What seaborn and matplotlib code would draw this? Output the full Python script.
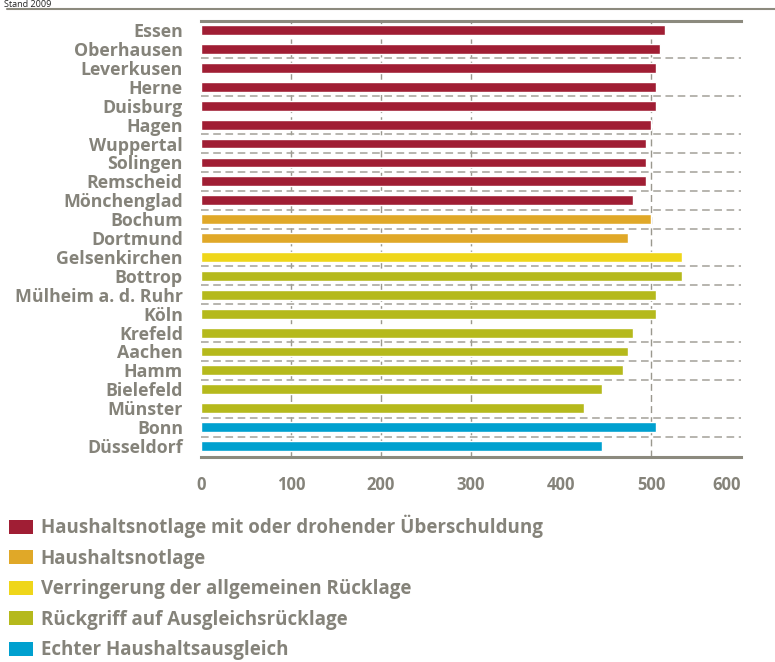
import seaborn as sns
import matplotlib.pyplot as plt
import pandas as pd
from matplotlib.patches import Patch
from matplotlib.lines import Line2D

# Staedte (von oben nach unten) und Werte
staedte = ['Essen', 'Oberhausen', 'Leverkusen', 'Herne', 'Duisburg', 'Hagen',
           'Wuppertal', 'Solingen', 'Remscheid', 'Mönchenglad', 'Bochum',
           'Dortmund', 'Gelsenkirchen', 'Bottrop', 'Mülheim a. d. Ruhr', 'Köln',
           'Krefeld', 'Aachen', 'Hamm', 'Bielefeld', 'Münster', 'Bonn',
           'Düsseldorf']
werte = [515, 510, 505, 505, 505, 500, 494, 494, 494, 480, 500, 474, 534,
         534, 505, 505, 480, 474, 469, 445, 425, 505, 445]
kat_index = [0, 0, 0, 0, 0, 0, 0, 0, 0, 0, 1, 1, 2, 3, 3, 3, 3, 3, 3, 3, 3, 4, 4]

kategorien = ['Haushaltsnotlage mit oder drohender Überschuldung',
              'Haushaltsnotlage',
              'Verringerung der allgemeinen Rücklage',
              'Rückgriff auf Ausgleichsrücklage',
              'Echter Haushaltsausgleich']
farben = ['#a01e34', '#e0a828', '#efd61a', '#b5b91c', '#00a0cf']

x_ticks = [0, 100, 200, 300, 400, 500, 600]
x_gitter = [100, 200, 300, 500]
# Zeilen, nach denen eine gestrichelte Trennlinie steht
trenner = [1, 3, 5, 6, 7, 8, 9, 10, 12, 13, 14, 16, 17, 18, 20, 21]

df = pd.DataFrame({'Stadt': staedte, 'Wert': werte,
                   'Kategorie': [kategorien[i] for i in kat_index]})

grau = '#85837a'
linie = '#8c8a7e'
schrift = ['Open Sans', 'DejaVu Sans']

sns.set_style('white')
plt.rcParams['font.family'] = schrift

fig = plt.figure(figsize=(7.75, 6.62), dpi=100)
ax = fig.add_axes([201 / 775, 205 / 662, 540 / 775, 436 / 662])

sns.barplot(data=df, y='Stadt', x='Wert', hue='Kategorie', order=staedte,
            hue_order=kategorien, palette=dict(zip(kategorien, farben)),
            dodge=False, width=0.52, legend=False, saturation=1, ax=ax)

ax.set_xlim(0, 600)
ax.set_ylim(len(staedte) - 0.42, -0.48)

for x in x_gitter:
    ax.axvline(x, color='#9a988e', lw=1, ls=(0, (5, 3)), zorder=0)
for i in trenner:
    ax.hlines(i + 0.5, 0, 600, color='#a3a198', lw=1.1, ls=(0, (5, 3)), zorder=0)

ax.set_xlabel('')
ax.set_ylabel('')
ax.set_xticks(x_ticks)
ax.set_xticklabels([str(t) for t in x_ticks], fontsize=12, fontweight='bold', color=grau)
ax.get_xticklabels()[-1].set_horizontalalignment('right')
ax.tick_params(axis='x', length=6, width=1.5, color=linie, pad=8, direction='out')
ax.tick_params(axis='y', length=0, pad=13)
for lab in ax.get_yticklabels():
    lab.set_fontsize(12.8)
    lab.set_fontweight('bold')
    lab.set_color(grau)

for s in ['left', 'right']:
    ax.spines[s].set_visible(False)
for s in ['top', 'bottom']:
    ax.spines[s].set_color(linie)
    ax.spines[s].set_linewidth(2.2)

# Kopfzeile
fig.text(4 / 775, 1.0, 'Stand 2009', fontsize=6.5, color='#222222', va='top')
fig.add_artist(Line2D([7 / 775, 1], [1 - 9 / 662, 1 - 9 / 662], color=linie, lw=1.5))

handles = [Patch(facecolor=f, edgecolor='none') for f in farben]
fig.legend(handles, kategorien, loc='upper left', bbox_to_anchor=(9 / 775, 1 - 515 / 662),
           frameon=False, handlelength=1.28, handleheight=0.75,
           handletextpad=0.42, labelspacing=0.56, borderpad=0, borderaxespad=0,
           labelcolor=grau, prop={'family': schrift, 'weight': 'bold', 'size': 13.5})

fig.savefig('out.png', dpi=100)
